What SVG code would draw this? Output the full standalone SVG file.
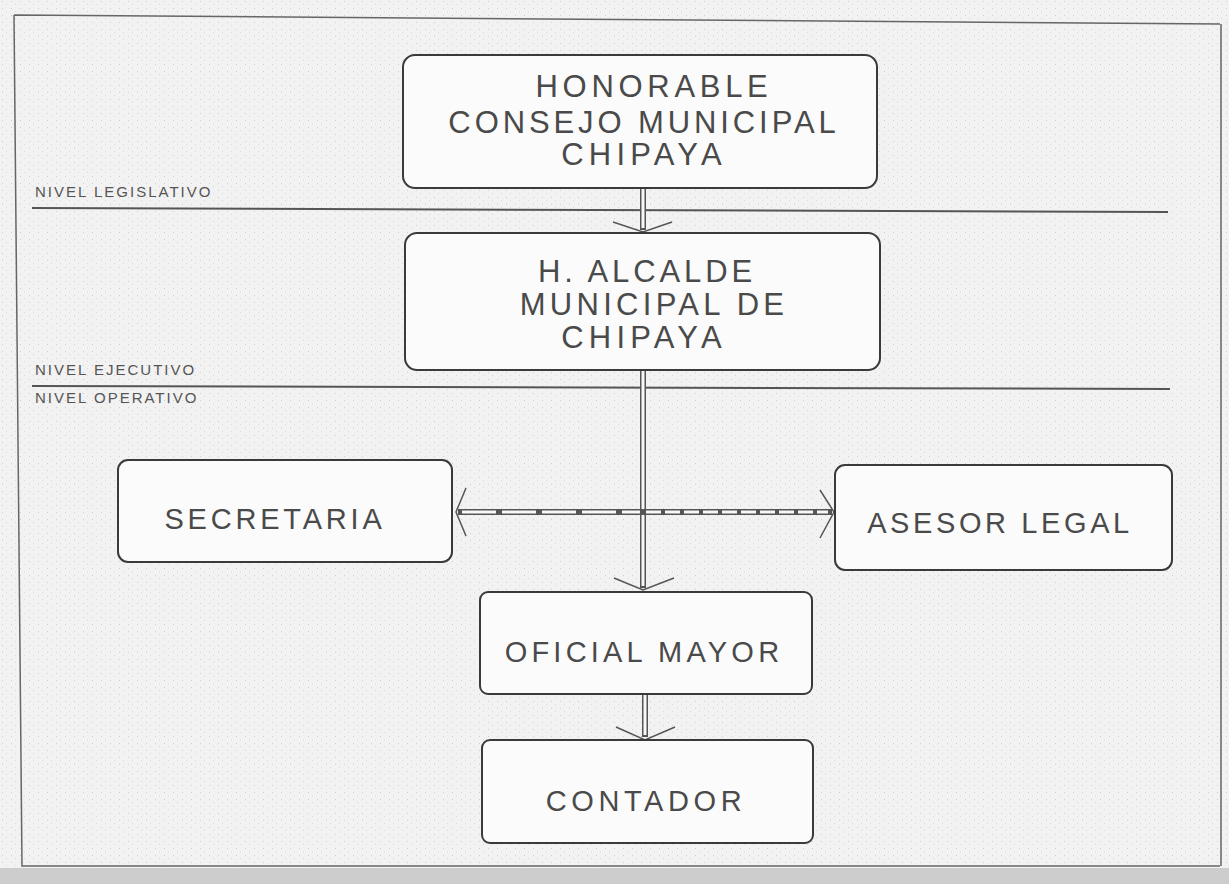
<svg xmlns="http://www.w3.org/2000/svg" width="1229" height="884" viewBox="0 0 1229 884">
<defs>
<style>
.box{fill:#fbfbfb;stroke:#3a3a3a;stroke-width:2}
.t{font-family:"Liberation Sans",Arial,sans-serif;fill:#4a4a4a;text-anchor:middle}
.lvl{font-family:"Liberation Sans",Arial,sans-serif;fill:#555;font-size:15px;letter-spacing:2px}
.rule{stroke:#555;stroke-width:2}
.outer{stroke:#666;stroke-width:1.5}
.pipeO{stroke:#555;stroke-width:6;fill:none}
.pipeI{stroke:#f7f7f7;stroke-width:3;fill:none}
.head{stroke:#555;stroke-width:1.5;fill:none}
</style>
<pattern id="noise" width="9" height="7" patternUnits="userSpaceOnUse">
<rect width="9" height="7" fill="#f2f2f2"/>
<rect x="2" y="1" width="1" height="1" fill="#cfcfcf"/>
<rect x="6" y="4" width="1" height="1" fill="#d8d8d8"/>
</pattern>
</defs>
<rect width="1229" height="884" fill="url(#noise)"/>
<rect x="0" y="868" width="1229" height="16" fill="#cdcdcd"/>
<path class="outer" d="M14 15 L1220 24 M14 15 L22 866 L1220 866 M1221 24 L1221 866" fill="none"/>

<g id="levels">
<line class="rule" x1="32" y1="208" x2="1168" y2="212"/>
<line class="rule" x1="32" y1="386" x2="1170" y2="389"/>
<text class="lvl" x="35" y="197">NIVEL LEGISLATIVO</text>
<text class="lvl" x="35" y="375">NIVEL EJECUTIVO</text>
<text class="lvl" x="35" y="403">NIVEL OPERATIVO</text>
</g>

<g id="connectors">
<line class="pipeO" x1="643" y1="189" x2="643" y2="230"/>
<line class="pipeI" x1="643" y1="189" x2="643" y2="228"/>
<path class="head" d="M613 222 L643 232 L672 222"/>
<line class="pipeO" x1="643" y1="371" x2="643" y2="588"/>
<line class="pipeI" x1="643" y1="371" x2="643" y2="586"/>
<path class="head" d="M614 578 L643 590 L674 578"/>
<line class="pipeO" x1="458" y1="512" x2="832" y2="512"/>
<line class="pipeI" x1="462" y1="512" x2="640" y2="512" stroke-dasharray="34 6"/>
<line class="pipeI" x1="646" y1="512" x2="828" y2="512" stroke-dasharray="15 4"/>
<path class="head" d="M466 488 L456 512 L466 536"/>
<path class="head" d="M820 490 L834 512 L820 538"/>
<line class="pipeO" x1="645" y1="695" x2="645" y2="737"/>
<line class="pipeI" x1="645" y1="695" x2="645" y2="735"/>
<path class="head" d="M616 727 L645 740 L675 727"/>
</g>

<g id="consejo">
<rect class="box" x="403" y="55" width="474" height="133" rx="12"/>
<text class="t" x="654" y="97" font-size="31" letter-spacing="4.7">HONORABLE</text>
<text class="t" x="644" y="133" font-size="31" letter-spacing="3.9">CONSEJO MUNICIPAL</text>
<text class="t" x="644" y="165" font-size="31" letter-spacing="5.2">CHIPAYA</text>
</g>
<g id="alcalde">
<rect class="box" x="405" y="233" width="475" height="137" rx="12"/>
<text class="t" x="647" y="282" font-size="31" letter-spacing="3.9">H. ALCALDE</text>
<text class="t" x="654" y="315" font-size="31" letter-spacing="4.3">MUNICIPAL DE</text>
<text class="t" x="644" y="348" font-size="31" letter-spacing="5.2">CHIPAYA</text>
</g>
<g id="secretaria">
<rect class="box" x="118" y="460" width="334" height="102" rx="10"/>
<text class="t" x="275" y="529" font-size="29" letter-spacing="3.8">SECRETARIA</text>
</g>
<g id="asesor">
<rect class="box" x="835" y="465" width="337" height="105" rx="10"/>
<text class="t" x="1000" y="533" font-size="29" letter-spacing="3.6">ASESOR LEGAL</text>
</g>
<g id="oficial">
<rect class="box" x="480" y="592" width="332" height="102" rx="8"/>
<text class="t" x="644" y="662" font-size="29" letter-spacing="4.2">OFICIAL MAYOR</text>
</g>
<g id="contador">
<rect class="box" x="482" y="740" width="331" height="103" rx="8"/>
<text class="t" x="646" y="811" font-size="29" letter-spacing="4.6">CONTADOR</text>
</g>
</svg>
